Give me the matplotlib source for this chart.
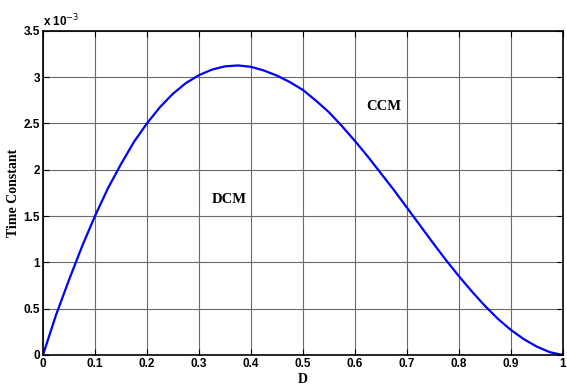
import matplotlib.pyplot as plt

# duty ratio and time constant (x 10^-3)
duty = [0, 0.025, 0.05, 0.075, 0.1, 0.125, 0.15, 0.175, 0.2, 0.225, 0.25, 0.275,
        0.3, 0.325, 0.35, 0.375, 0.4, 0.425, 0.45, 0.475, 0.5, 0.525, 0.55, 0.575,
        0.6, 0.625, 0.65, 0.675, 0.7, 0.725, 0.75, 0.775, 0.8, 0.825, 0.85, 0.875,
        0.9, 0.925, 0.95, 0.975, 1.0]
tau = [0, 0.43, 0.81, 1.17, 1.5, 1.80, 2.06, 2.30, 2.5, 2.675, 2.82, 2.935,
       3.02, 3.08, 3.115, 3.125, 3.11, 3.07, 3.015, 2.945, 2.86, 2.745, 2.62, 2.47,
       2.31, 2.14, 1.96, 1.78, 1.59, 1.40, 1.21, 1.025, 0.85, 0.685, 0.53, 0.39,
       0.27, 0.17, 0.09, 0.03, 0]

xticks = [0, 0.1, 0.2, 0.3, 0.4, 0.5, 0.6, 0.7, 0.8, 0.9, 1]
yticks = [0, 0.5, 1, 1.5, 2, 2.5, 3, 3.5]

tick_font = ['Liberation Sans Narrow', 'Liberation Sans', 'DejaVu Sans']
serif = ['Liberation Serif', 'DejaVu Serif']

fig = plt.figure(figsize=(5.67, 3.87), dpi=100)
ax = fig.add_axes([0.0758, 0.0827, 0.917, 0.838])

ax.plot(duty, tau, color='#0000ff', linewidth=1.6)

ax.set_xlim(0, 1)
ax.set_ylim(0, 3.5)
ax.set_xticks(xticks)
ax.set_yticks(yticks)
ax.set_xticklabels([('%g' % t) for t in xticks], family=tick_font, fontweight='bold', fontsize=8.5)
ax.set_yticklabels([('%g' % t) for t in yticks], family=tick_font, fontweight='bold', fontsize=8.5)
ax.tick_params(direction='in', length=4, width=0.8, top=True, right=True, pad=2)
ax.grid(True, color='#6a6a6a', linewidth=0.8)
for s in ax.spines.values():
    s.set_linewidth(1.2)

ax.text(0.0, 1.005, 'x 10$^{-3}$', transform=ax.transAxes, family=tick_font,
        fontweight='bold', fontsize=8.5, ha='left', va='bottom')

ax.set_ylabel('Time Constant', family=serif, fontweight='bold', fontsize=10, labelpad=3)
ax.set_xlabel('D', family=serif, fontweight='bold', fontsize=10, labelpad=2)

ax.text(0.358, 1.68, 'DCM', family=serif, fontweight='bold', fontsize=10.5, ha='center', va='center')
ax.text(0.655, 2.68, 'CCM', family=serif, fontweight='bold', fontsize=10.5, ha='center', va='center')

fig.savefig('out.png', dpi=100)
